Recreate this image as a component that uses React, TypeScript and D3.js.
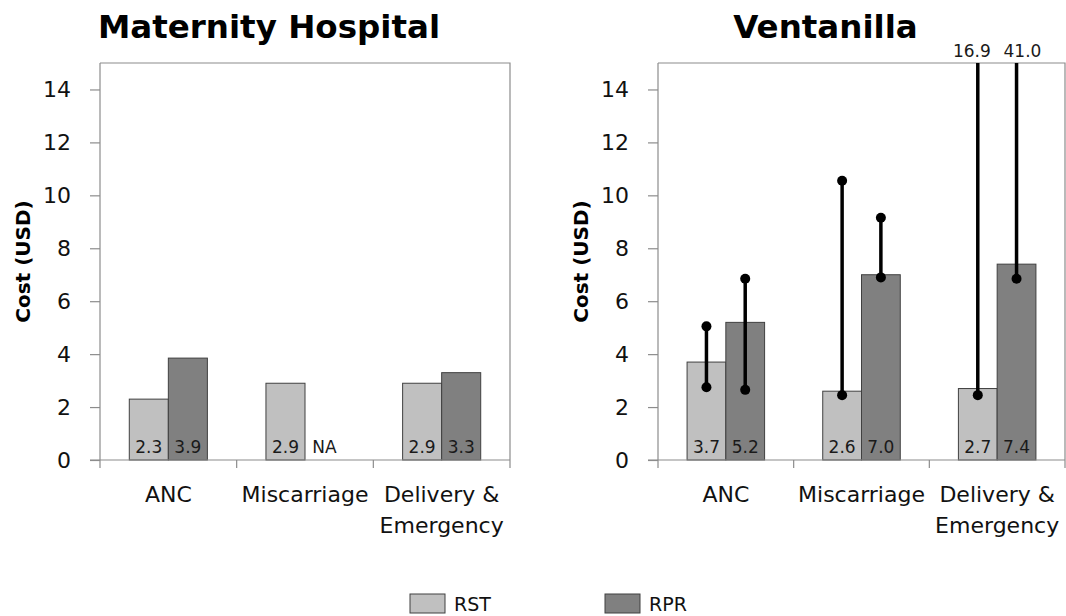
import React, { useEffect, useRef } from 'react';
import * as d3 from 'd3';

const categories = ['ANC', 'Miscarriage', 'Delivery & Emergency'];
const series = ['RST', 'RPR'];
const yTicks = [0, 2, 4, 6, 8, 10, 12, 14];

// Maternity Hospital
const maternityRST = [2.3, 2.9, 2.9];
const maternityRPR: (number | null)[] = [3.85, null, 3.3];

// Ventanilla
const ventanillaRST = [3.7, 2.6, 2.7];
const ventanillaRPR = [5.2, 7.0, 7.4];
const ventanillaRSTLow = [2.75, 2.45, 2.45];
const ventanillaRSTHigh = [5.05, 10.55, 16.9];
const ventanillaRPRLow = [2.65, 6.9, 6.85];
const ventanillaRPRHigh = [6.85, 9.15, 41.0];

const FONT = '"DejaVu Sans", sans-serif';
const colors: Record<string, string> = { RST: '#c0c0c0', RPR: '#808080' };

type PanelProps = {
  title: string;
  left: number;
  right: number;
  rst: (number | null)[];
  rpr: (number | null)[];
  low?: number[][];
  high?: number[][];
};

const drawPanel = (
  svg: d3.Selection<SVGSVGElement, unknown, null, undefined>,
  { title, left, right, rst, rpr, low, high }: PanelProps
) => {
  const top = 63;
  const bottom = 460;
  const g = svg.append('g');

  const x = d3.scaleBand().domain(categories).range([left, right]);
  const xs = d3.scaleBand().domain(series).range([0, x.bandwidth()]).paddingOuter(0.75);
  const y = d3.scaleLinear().domain([0, 15]).range([bottom, top]);

  // frame (top + right)
  g.append('path')
    .attr('d', `M${left},${top}H${right}V${bottom}`)
    .attr('fill', 'none')
    .attr('stroke', '#8c8c8c')
    .attr('stroke-width', 1.2);

  // title
  g.append('text')
    .attr('x', (left + right) / 2 - 36)
    .attr('y', 38)
    .attr('text-anchor', 'middle')
    .attr('font-family', FONT)
    .attr('font-weight', 'bold')
    .attr('font-size', 32.5)
    .attr('fill', '#000')
    .text(title);

  // y axis
  const yAxis = g.append('g')
    .attr('transform', `translate(${left},0)`)
    .call(d3.axisLeft(y).tickValues(yTicks).tickSize(10).tickPadding(19).tickSizeOuter(0));
  yAxis.select('.domain').attr('stroke', '#8c8c8c').attr('stroke-width', 1.2).attr('d', `M0,${top}V${bottom}`);
  yAxis.selectAll('.tick line').attr('stroke', '#8c8c8c').attr('stroke-width', 1.2);
  yAxis.selectAll('.tick text')
    .attr('font-family', FONT)
    .attr('font-size', 22)
    .attr('fill', '#111');

  // y label
  g.append('text')
    .attr('transform', `translate(${left - 70},${(top + bottom) / 2}) rotate(-90)`)
    .attr('text-anchor', 'middle')
    .attr('font-family', FONT)
    .attr('font-weight', 'bold')
    .attr('font-size', 20)
    .attr('fill', '#000')
    .text('Cost (USD)');

  // bars
  const rows = categories.flatMap((c, i) => [
    { cat: c, s: 'RST', v: rst[i], i },
    { cat: c, s: 'RPR', v: rpr[i], i },
  ]);

  g.selectAll('rect.bar')
    .data(rows.filter(d => d.v !== null))
    .join('rect')
    .attr('class', 'bar')
    .attr('x', d => (x(d.cat) as number) + (xs(d.s) as number))
    .attr('y', d => y(d.v as number))
    .attr('width', xs.bandwidth())
    .attr('height', d => bottom - y(d.v as number))
    .attr('fill', d => colors[d.s])
    .attr('stroke', '#404040')
    .attr('stroke-width', 1);

  // x axis
  g.append('path')
    .attr('d', `M${left - 10},${bottom}H${right}`)
    .attr('stroke', '#8c8c8c')
    .attr('stroke-width', 1.2);
  const bounds = [left, ...categories.slice(1).map(c => x(c) as number), right];
  g.selectAll('line.xtick')
    .data(bounds)
    .join('line')
    .attr('class', 'xtick')
    .attr('x1', d => d)
    .attr('x2', d => d)
    .attr('y1', bottom)
    .attr('y2', bottom + 8)
    .attr('stroke', '#8c8c8c')
    .attr('stroke-width', 1.2);

  // category labels
  g.selectAll('text.cat')
    .data(categories)
    .join('text')
    .attr('class', 'cat')
    .attr('text-anchor', 'middle')
    .attr('font-family', FONT)
    .attr('font-size', 22)
    .attr('fill', '#111')
    .each(function (d) {
      const t = d3.select(this);
      const cx = (x(d) as number) + x.bandwidth() / 2;
      const lines = d === 'Delivery & Emergency' ? ['Delivery &', 'Emergency'] : [d];
      lines.forEach((l, k) => {
        t.append('tspan').attr('x', cx).attr('y', 502 + k * 31).text(l);
      });
    });

  // value labels
  g.selectAll('text.val')
    .data(rows)
    .join('text')
    .attr('class', 'val')
    .attr('x', d => (x(d.cat) as number) + (xs(d.s) as number) + xs.bandwidth() / 2)
    .attr('y', bottom - 7)
    .attr('text-anchor', 'middle')
    .attr('font-family', FONT)
    .attr('font-size', 17)
    .attr('fill', '#1a1a1a')
    .text(d => (d.v === null ? 'NA' : (d.v as number).toFixed(1)));

  // error bars
  if (low && high) {
    const eb = rows.map(d => ({
      ...d,
      lo: low[d.s === 'RST' ? 0 : 1][d.i],
      hi: high[d.s === 'RST' ? 0 : 1][d.i],
      cx: (x(d.cat) as number) + (xs(d.s) as number) + xs.bandwidth() / 2,
    }));
    g.selectAll('line.err')
      .data(eb)
      .join('line')
      .attr('class', 'err')
      .attr('x1', d => d.cx)
      .attr('x2', d => d.cx)
      .attr('y1', d => y(d.lo))
      .attr('y2', d => y(Math.min(d.hi, 15)))
      .attr('stroke', '#000')
      .attr('stroke-width', 3.5);
    const dots = eb.flatMap(d => (d.hi <= 15 ? [{ cx: d.cx, v: d.lo }, { cx: d.cx, v: d.hi }] : [{ cx: d.cx, v: d.lo }]));
    g.selectAll('circle.err')
      .data(dots)
      .join('circle')
      .attr('class', 'err')
      .attr('cx', d => d.cx)
      .attr('cy', d => y(d.v))
      .attr('r', 5)
      .attr('fill', '#000');
    // off-scale values written above the frame, spread apart
    g.selectAll('text.over')
      .data(eb.filter(d => d.hi > 15))
      .join('text')
      .attr('class', 'over')
      .attr('x', d => (d.s === 'RST' ? d.cx + 13 : d.cx - 13))
      .attr('y', top - 6)
      .attr('text-anchor', d => (d.s === 'RST' ? 'end' : 'start'))
      .attr('font-family', FONT)
      .attr('font-size', 17)
      .attr('fill', '#1a1a1a')
      .text(d => d.hi.toFixed(1));
  }
};

export default function App() {
  const svgRef = useRef<SVGSVGElement>(null);

  useEffect(() => {
    if (!svgRef.current) return;
    d3.select(svgRef.current).selectAll('*').remove();
    const svg = d3.select(svgRef.current);

    svg.append('rect').attr('width', 1066).attr('height', 616).attr('fill', '#fff');

    drawPanel(svg, {
      title: 'Maternity Hospital',
      left: 100,
      right: 510,
      rst: maternityRST,
      rpr: maternityRPR,
    });
    drawPanel(svg, {
      title: 'Ventanilla',
      left: 658,
      right: 1065,
      rst: ventanillaRST,
      rpr: ventanillaRPR,
      low: [ventanillaRSTLow, ventanillaRPRLow],
      high: [ventanillaRSTHigh, ventanillaRPRHigh],
    });

    // legend
    const legendX = [410, 605];
    const lg = svg.append('g')
      .selectAll('g')
      .data(series)
      .join('g')
      .attr('transform', (d, i) => `translate(${legendX[i]},594)`);
    lg.append('rect')
      .attr('width', 35)
      .attr('height', 19)
      .attr('fill', d => colors[d])
      .attr('stroke', '#404040')
      .attr('stroke-width', 1);
    lg.append('text')
      .attr('x', 44)
      .attr('y', 17)
      .attr('font-family', FONT)
      .attr('font-size', 19)
      .attr('fill', '#111')
      .text(d => d);
  }, []);

  return (
    <svg
      ref={svgRef}
      width={1066}
      height={616}
      style={{ position: 'absolute', left: 0, top: 0 }}
    />
  );
}
